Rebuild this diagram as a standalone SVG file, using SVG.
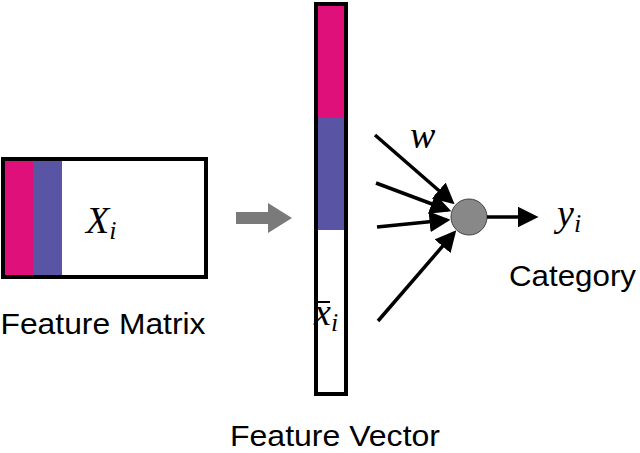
<svg xmlns="http://www.w3.org/2000/svg" width="640" height="453" viewBox="0 0 640 453">
<style>
.lbl{font-family:"Liberation Sans",Arial,sans-serif;font-size:30px;fill:#000}
.math{font-family:"Liberation Serif","Times New Roman",serif;font-style:italic;font-size:38px;fill:#000}
.sub{font-family:"Liberation Serif","Times New Roman",serif;font-style:italic;font-size:26px}
.edge{stroke:#000;stroke-width:3.5;fill:none;marker-end:url(#ah)}
</style>
<defs>
<marker id="ah" markerWidth="6" markerHeight="6" refX="5" refY="3" orient="auto" markerUnits="strokeWidth">
<path d="M0,0 L6,3 L0,6 z" fill="#000"/>
</marker>
</defs>
<rect width="640" height="453" fill="#fff"/>
<g id="matrix">
<rect x="4" y="160" width="29" height="116" fill="#e0107a"/>
<rect x="33" y="160" width="29" height="116" fill="#5a54a4"/>
<rect x="3" y="159" width="203" height="118" fill="none" stroke="#000" stroke-width="4"/>
<text x="86" y="233" class="math">X<tspan class="sub" dy="6">i</tspan></text>
<text x="103" y="334" class="lbl" text-anchor="middle" textLength="205" lengthAdjust="spacingAndGlyphs">Feature Matrix</text>
</g>
<g id="transform">
<path d="M236,212 H268 V203 L292,218 L268,233 V224 H236 z" fill="#7a7a7a"/>
</g>
<g id="vector">
<rect x="316" y="4" width="30" height="114" fill="#e0107a"/>
<rect x="316" y="118" width="30" height="112" fill="#5a54a4"/>
<rect x="316" y="4" width="30" height="390" fill="none" stroke="#000" stroke-width="4"/>
<text x="314" y="325" class="math">x<tspan class="sub" dy="6">i</tspan></text>
<path d="M318,302 H330" stroke="#000" stroke-width="2"/>
<text x="335" y="446" class="lbl" text-anchor="middle" textLength="210" lengthAdjust="spacingAndGlyphs">Feature Vector</text>
</g>
<g id="neuron">
<circle cx="469" cy="217" r="18" fill="#888" stroke="#444" stroke-width="1"/>
</g>
<g id="connectors">
<line x1="375" y1="135" x2="452" y2="202" class="edge"/>
<line x1="376" y1="183" x2="448" y2="210" class="edge"/>
<line x1="377" y1="227" x2="447" y2="220" class="edge"/>
<line x1="378" y1="321" x2="454" y2="233" class="edge"/>
<line x1="487" y1="217" x2="535" y2="217" class="edge"/>
</g>
<text x="410" y="148" class="math">w</text>
<g id="output">
<text x="557" y="226" class="math">y<tspan class="sub" dy="6">i</tspan></text>
<text x="509" y="286" class="lbl" textLength="127" lengthAdjust="spacingAndGlyphs">Category</text>
</g>
</svg>
